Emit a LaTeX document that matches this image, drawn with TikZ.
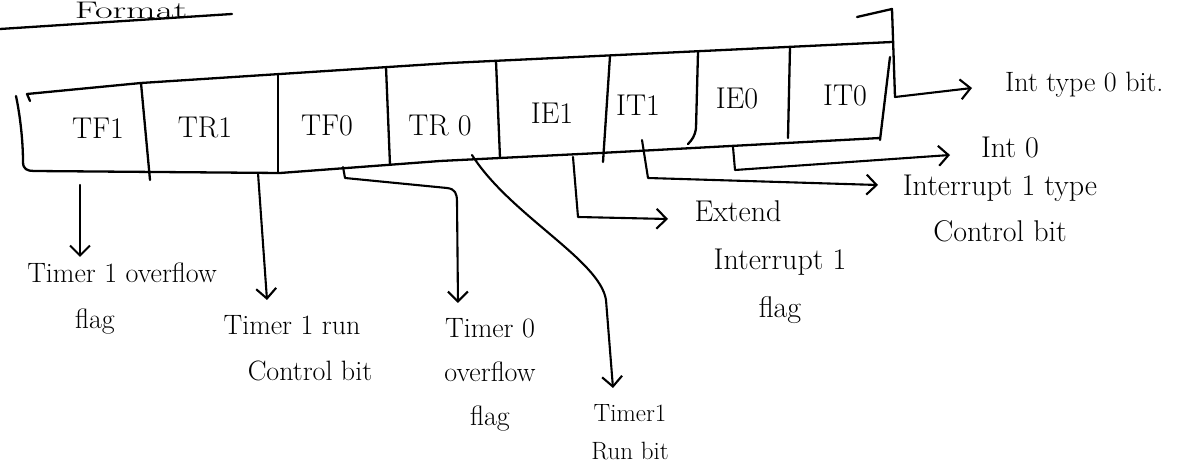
\documentclass[tikz,border=0pt]{standalone}
\usetikzlibrary{arrows.meta,calc}
\begin{document}
\begin{tikzpicture}[x=1pt,y=-1pt,
  frame/.style={line width=2.3pt, line join=round, line cap=round},
  conn/.style={line width=2.1pt, line join=round, line cap=round},
  arr/.style={conn, -{Straight Barb[length=10pt,width=20pt]}},
  cell/.style={inner sep=0pt, font=\fontsize{30}{36}\selectfont},
  note/.style={inner sep=0pt, align=center, anchor=north, font=\fontsize{28}{46}\selectfont},
]
\useasboundingbox (0,0) rectangle (1197,470);

% heading and its underline
\node[inner sep=0pt, anchor=base, font=\fontsize{24}{24}\selectfont] (title) at (131,19) {\scalebox{1.6}[1]{Format}};
\draw[frame] (0,29) -- (232,14);

% register outline
\draw[frame] (30,101) -- (27,94) -- (141,83) -- (450,63) -- (892,42);
\draw[frame] (16,96) .. controls (20,115) and (23,140) .. (23,162)
  .. controls (23,169) and (27,171) .. (34,171) -- (280,173) -- (440,161)
  -- (600,153) -- (880,138);
\draw[frame] (857,17) -- (892,9) -- (895,97);
\draw[frame] (890,57) -- (880,140);

% bit dividers
\draw[frame] (141,83) -- (150,180);
\draw[frame] (278,74) -- (278,173);
\draw[frame] (386,67) -- (390,165);
\draw[frame] (496,61) -- (500,158);
\draw[frame] (610,56) -- (603,162);
\draw[frame] (698,52) -- (696,128) .. controls (695,136) and (692,140) .. (688,144);
\draw[frame] (790,47) -- (788,138);

% bit names
\node[cell] (tf1) at (98,128) {TF1};
\node[cell] (tr1) at (205,127) {TR1};
\node[cell] (tf0) at (327,126) {TF0};
\node[cell] (tr0) at (440,125) {TR 0};
\node[cell] (ie1) at (552,113) {IE1};
\node[cell] (it1) at (638,105) {IT1};
\node[cell] (ie0) at (737,98) {IE0};
\node[cell] (it0) at (845,95) {IT0};

% descriptions
\node[note] (l1) at (122,263) {Timer 1 overflow\\flag\hspace*{54pt}};
\node[note] (l2) at (310,315) {Timer 1 run\hspace*{36pt}\\Control bit};
\node[note, font=\fontsize{28}{44}\selectfont] (l3) at (490,318) {Timer 0\\overflow\\flag};
\node[note, font=\fontsize{25}{38}\selectfont] (l4) at (630,404) {Timer1\\Run bit};
\node[note, font=\fontsize{30}{48}\selectfont] (l5) at (780,200) {Extend\hspace*{84pt}\\Interrupt 1\\flag};
\node[note, font=\fontsize{30}{46}\selectfont] (l6) at (1000,175) {Interrupt 1 type\\Control bit};
\node[note, font=\fontsize{30}{36}\selectfont] (l7) at (1010,137) {Int 0};
\node[note, anchor=north west] (l8) at (1005,72) {Int type 0 bit.};

% leader ends
\coordinate (s1) at (80,185);  \coordinate (t1) at (80,257);
\coordinate (s2) at (258,173); \coordinate (t2) at (267,300);
\coordinate (s3) at (343,167); \coordinate (t3) at (458,303);
\coordinate (s4) at (472,155); \coordinate (t4) at (613,388);
\coordinate (s5) at (573,157); \coordinate (t5) at (668,219);
\coordinate (s6) at (642,140); \coordinate (t6) at (878,185);
\coordinate (s7) at (733,147); \coordinate (t7) at (950,155);
\coordinate (s8) at (895,97);  \coordinate (t8) at (972,88);

% leaders
\draw[arr] (s1) -- (t1);
\draw[arr] (s2) -- (t2);
\draw[arr] (s3) -- (345,178) -- (447,188) .. controls (455,189) and (457,193) .. (457,202) -- (t3);
\draw[arr] (s4) .. controls (510,215) and (600,260) .. (606,300) -- (t4);
\draw[arr] (s5) -- (578,217) -- (t5);
\draw[arr] (s6) -- (648,178) -- (t6);
\draw[arr] (s7) -- (735,170) -- (t7);
\draw[arr] (s8) -- (t8);
\end{tikzpicture}
\end{document}
